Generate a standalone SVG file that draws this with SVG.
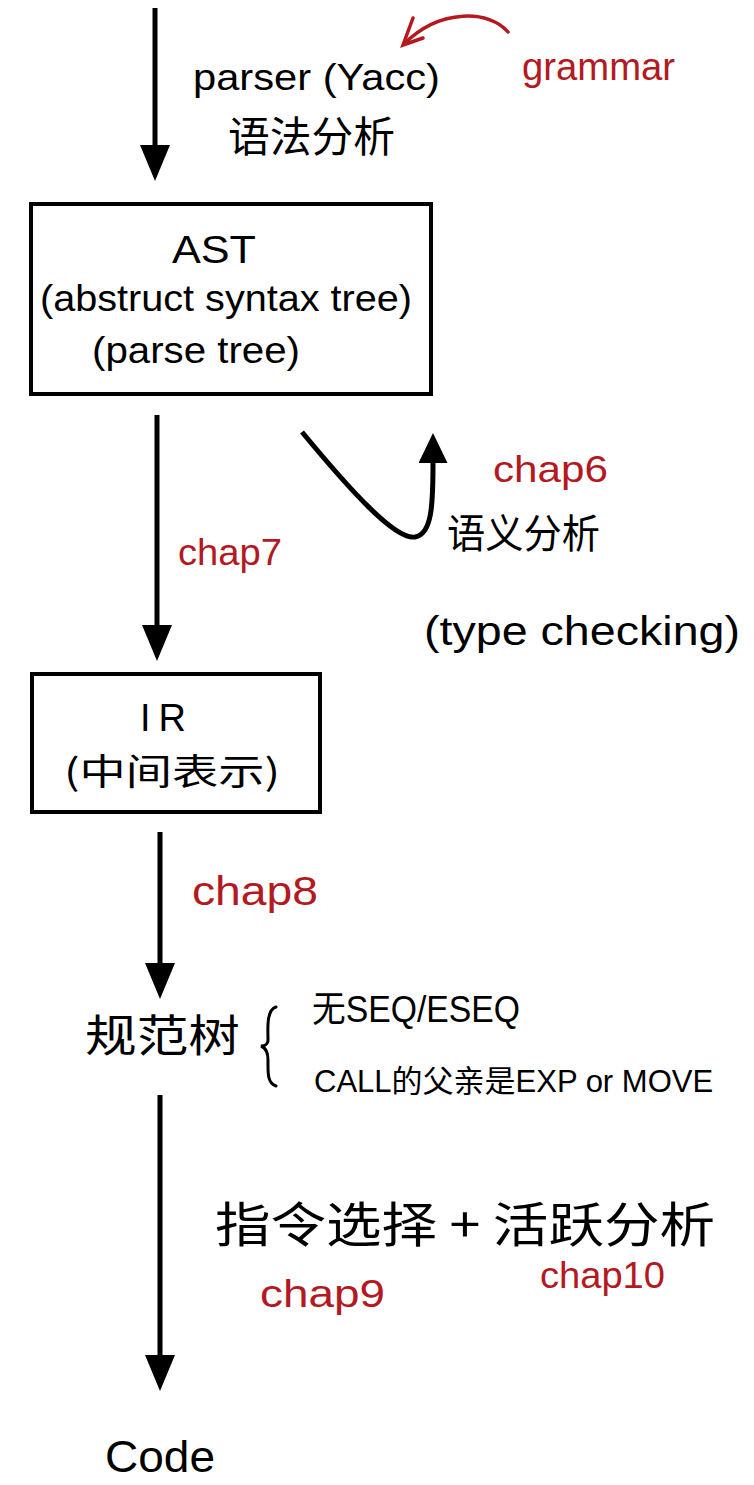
<svg xmlns="http://www.w3.org/2000/svg" width="754" height="1485" viewBox="0 0 754 1485">
<style>
  .t { font-family: "Liberation Sans", "Noto Sans CJK SC", sans-serif; fill: #000; }
  .cjk { font-family: "Noto Sans CJK SC", sans-serif; fill: #000; }
  .red { font-family: "Liberation Sans", sans-serif; fill: #b3191f; }
  .box { fill: #fff; stroke: #000; stroke-width: 4; }
  .conn { fill: none; stroke: #000; stroke-width: 5; }
</style>
<defs>
  <marker id="ah" viewBox="0 0 36 30" refX="0" refY="15" markerWidth="36" markerHeight="30" markerUnits="userSpaceOnUse" orient="auto">
    <path d="M0,0 L36,15 L0,30 z" fill="#000"/>
  </marker>
  <marker id="ahs" viewBox="0 0 30 29" refX="0" refY="14.5" markerWidth="30" markerHeight="29" markerUnits="userSpaceOnUse" orient="auto">
    <path d="M0,0 L30,14.5 L0,29 z" fill="#000"/>
  </marker>
</defs>

<g id="connectors">
  <path class="conn" d="M155,8 L155,145" marker-end="url(#ah)"/>
  <path class="conn" d="M157,415 L157,625" marker-end="url(#ah)"/>
  <path class="conn" d="M160,832 L160,963" marker-end="url(#ah)"/>
  <path class="conn" d="M160,1095 L160,1355" marker-end="url(#ah)"/>
  <path class="conn" d="M302,432 C350,490 395,540 415,537 C432,534 433,505 433,463" stroke-width="4" marker-end="url(#ahs)"/>
  <g id="grammar-arrow" fill="none" stroke="#b3191f" stroke-width="3.5" stroke-linecap="round">
    <path d="M508,32 C490,10 440,8 404,44"/>
    <path d="M413,18 L403,45 L423,38"/>
  </g>
</g>

<g id="parser-label">
  <text class="t" x="193" y="90" font-size="36" textLength="247" lengthAdjust="spacingAndGlyphs">parser (Yacc)</text>
  <text class="cjk" x="228" y="152" font-size="42" textLength="167" lengthAdjust="spacingAndGlyphs">语法分析</text>
</g>

<g id="grammar-label">
  <text class="red" x="522" y="80" font-size="38" textLength="153" lengthAdjust="spacingAndGlyphs">grammar</text>
</g>

<g id="ast">
  <rect class="box" x="31" y="204" width="400" height="190"/>
  <text class="t" x="172" y="263" font-size="38" textLength="84" lengthAdjust="spacingAndGlyphs">AST</text>
  <text class="t" x="40" y="311" font-size="36" textLength="372" lengthAdjust="spacingAndGlyphs">(abstruct syntax tree)</text>
  <text class="t" x="92" y="363" font-size="36" textLength="208" lengthAdjust="spacingAndGlyphs">(parse tree)</text>
</g>

<g id="chap7-label">
  <text class="red" x="178" y="565" font-size="36" textLength="104" lengthAdjust="spacingAndGlyphs">chap7</text>
</g>

<g id="semantic-label">
  <text class="red" x="493" y="482" font-size="36" textLength="115" lengthAdjust="spacingAndGlyphs">chap6</text>
  <text class="cjk" x="447" y="548" font-size="40" textLength="153" lengthAdjust="spacingAndGlyphs">语义分析</text>
  <text class="t" x="424" y="645" font-size="40" textLength="316" lengthAdjust="spacingAndGlyphs">(type checking)</text>
</g>

<g id="ir">
  <rect class="box" x="32" y="674" width="288" height="138"/>
  <text class="t" x="140" y="731" font-size="38" letter-spacing="8">IR</text>
  <text class="cjk" x="64" y="785" font-size="36" textLength="216" lengthAdjust="spacingAndGlyphs">(中间表示)</text>
</g>

<g id="chap8-label">
  <text class="red" x="192" y="905" font-size="40" textLength="126" lengthAdjust="spacingAndGlyphs">chap8</text>
</g>

<g id="canonical">
  <text class="cjk" x="85" y="1052" font-size="44" textLength="155" lengthAdjust="spacingAndGlyphs">规范树</text>
  <path d="M276,1007 C266,1010 268,1030 268,1040 C268,1045 263,1046 261,1046 C266,1048 268,1052 268,1060 C268,1072 267,1083 276,1086" fill="none" stroke="#000" stroke-width="3" stroke-linecap="round"/>
  <text class="t" x="312" y="1022" font-size="36" textLength="208" lengthAdjust="spacingAndGlyphs">无SEQ/ESEQ</text>
  <text class="t" x="314" y="1092" font-size="31">CALL的父亲是EXP or MOVE</text>
</g>

<g id="codegen-label">
  <text class="cjk" x="215" y="1242" font-size="48" textLength="500" lengthAdjust="spacingAndGlyphs">指令选择 + 活跃分析</text>
  <text class="red" x="260" y="1307" font-size="38" textLength="125" lengthAdjust="spacingAndGlyphs">chap9</text>
  <text class="red" x="540" y="1288" font-size="36" textLength="125" lengthAdjust="spacingAndGlyphs">chap10</text>
</g>

<g id="code">
  <text class="t" x="105" y="1472" font-size="44" textLength="110" lengthAdjust="spacingAndGlyphs">Code</text>
</g>
</svg>
